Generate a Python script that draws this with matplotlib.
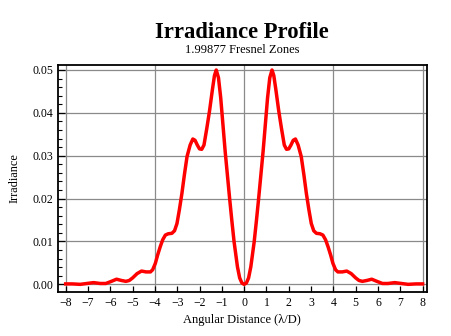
import numpy as np
import matplotlib
matplotlib.use("Agg")
import matplotlib.pyplot as plt
from matplotlib.ticker import MultipleLocator

# angular distance (lambda/D) and irradiance
distance = [-8.0, -7.7, -7.35, -7.05, -6.75, -6.45, -6.2, -5.95, -5.72, -5.5,
            -5.3, -5.15, -5.0, -4.8, -4.6, -4.4, -4.2, -4.1, -3.98, -3.88,
            -3.76, -3.65, -3.53, -3.4, -3.24, -3.12, -3.01, -2.9, -2.79, -2.68,
            -2.56, -2.42, -2.3, -2.2, -2.1, -2.0, -1.9, -1.8, -1.67, -1.55,
            -1.42, -1.33, -1.25, -1.15, -1.05, -0.97, -0.85, -0.75, -0.65, -0.55,
            -0.45, -0.3, -0.2, -0.1, 0.0,
            0.1, 0.2, 0.3, 0.45, 0.55, 0.65, 0.75, 0.85, 0.97, 1.05,
            1.15, 1.25, 1.33, 1.42, 1.55, 1.67, 1.8, 1.9, 2.0, 2.1,
            2.2, 2.3, 2.42, 2.56, 2.68, 2.79, 2.9, 3.01, 3.12, 3.24,
            3.4, 3.53, 3.65, 3.76, 3.88, 3.98, 4.1, 4.2, 4.4, 4.6,
            4.8, 5.0, 5.15, 5.3, 5.5, 5.72, 5.95, 6.2, 6.45, 6.75,
            7.05, 7.35, 7.7, 8.0]
irradiance = [0.0001, 0.0001, 0.0000, 0.0002, 0.0004, 0.0002, 0.0002, 0.0007, 0.0012, 0.0009,
              0.0007, 0.0009, 0.0015, 0.0025, 0.0031, 0.0029, 0.0029, 0.0034, 0.0049, 0.0068,
              0.0088, 0.0104, 0.0115, 0.0118, 0.0119, 0.0125, 0.0142, 0.0175, 0.0212, 0.0255,
              0.0298, 0.0325, 0.0339, 0.0336, 0.0325, 0.0316, 0.0315, 0.0325, 0.0365, 0.0405,
              0.0455, 0.0487, 0.0500, 0.0482, 0.0435, 0.0385, 0.0310, 0.0255, 0.0200, 0.0148,
              0.0099, 0.0041, 0.0015, 0.0003, 0.0000,
              0.0003, 0.0015, 0.0041, 0.0099, 0.0148, 0.0200, 0.0255, 0.0310, 0.0385, 0.0435,
              0.0482, 0.0500, 0.0487, 0.0455, 0.0405, 0.0365, 0.0325, 0.0315, 0.0316, 0.0325,
              0.0336, 0.0339, 0.0325, 0.0298, 0.0255, 0.0212, 0.0175, 0.0142, 0.0125, 0.0119,
              0.0118, 0.0115, 0.0104, 0.0088, 0.0068, 0.0049, 0.0034, 0.0029, 0.0029, 0.0031,
              0.0025, 0.0015, 0.0009, 0.0007, 0.0009, 0.0012, 0.0007, 0.0002, 0.0002, 0.0004,
              0.0002, 0.0000, 0.0001, 0.0001]

x_ticks = list(range(-8, 9))
y_ticks = [0.00, 0.01, 0.02, 0.03, 0.04, 0.05]
x_grid = [-8, -4, 0, 4, 8]

SERIF = ["Liberation Serif", "DejaVu Serif"]
plt.rcParams["font.family"] = SERIF

fig = plt.figure(figsize=(4.51, 3.36), dpi=100)
ax = fig.add_axes([0.1293, 0.1318, 0.9474 - 0.1293, 0.808 - 0.1318])

for xg in x_grid:
    ax.axvline(xg, color="#8a8a8a", lw=0.9, zorder=1)
for yg in y_ticks:
    ax.axhline(yg, color="#8a8a8a", lw=0.9, zorder=1)

ax.plot(distance, irradiance, color="#ff0000", lw=2.5, zorder=3,
        solid_joinstyle="round")

ax.set_xlim(-8.33, 8.21)
ax.set_ylim(-0.00172, 0.05128)

ax.set_xticks(x_ticks)
ax.set_xticklabels([f"\u2212{abs(v)}" if v < 0 else str(v) for v in x_ticks])
ax.set_yticks(y_ticks)
ax.set_yticklabels([f"{v:.2f}" for v in y_ticks])
ax.yaxis.set_minor_locator(MultipleLocator(0.002))

ax.tick_params(axis="both", which="both", direction="in", top=False, right=False,
               labelsize=8.5, color="black", pad=3.5)
ax.tick_params(axis="x", which="major", length=4, width=0.9)
ax.tick_params(axis="y", which="major", length=5, width=0.9)
ax.tick_params(axis="y", which="minor", length=3, width=0.8)

for s in ax.spines.values():
    s.set_linewidth(1.3)
    s.set_color("black")

fig.text(242 / 451, 1 - 38.3 / 336, "Irradiance Profile", ha="center",
         va="baseline", fontsize=16.3, fontweight="bold")
fig.text(242 / 451, 1 - 53.3 / 336, "1.99877 Fresnel Zones", ha="center",
         va="baseline", fontsize=9)
fig.text(15 / 451, 1 - 178 / 336, "Irradiance", rotation=90, ha="center",
         va="center", fontsize=8.8)
fig.text(242 / 451, 1 - 320 / 336, "Angular Distance (\u03bb/D)", ha="center",
         va="center", fontsize=9)

fig.savefig("out.png", dpi=100)
